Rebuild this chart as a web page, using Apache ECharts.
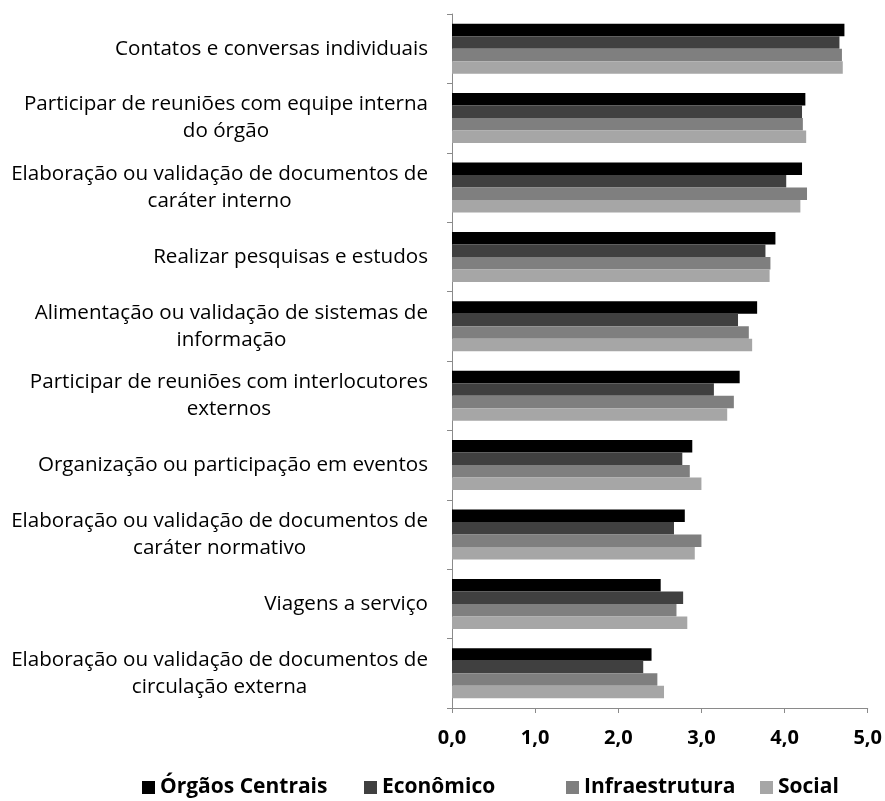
<!DOCTYPE html>
<html>
<head>
<meta charset="utf-8">
<script src="https://cdn.jsdelivr.net/npm/echarts@6/dist/echarts.min.js"></script>
<style>
  html, body { margin: 0; padding: 0; background: #fff; }
  #chart { width: 885px; height: 801px; }
</style>
</head>
<body>
<div id="chart"></div>
<script>
// Activities, top to bottom
const categories = [
  'Contatos e conversas individuais',
  'Participar de reuniões com equipe interna\ndo órgão',
  'Elaboração ou validação de documentos de\ncaráter interno',
  'Realizar pesquisas e estudos',
  'Alimentação ou validação de sistemas de\ninformação',
  'Participar de reuniões com interlocutores\nexternos',
  'Organização ou participação em eventos',
  'Elaboração ou validação de documentos de\ncaráter normativo',
  'Viagens a serviço',
  'Elaboração ou validação de documentos de\ncirculação externa'
];

const seriesNames = ['Órgãos Centrais', 'Econômico', 'Infraestrutura', 'Social'];

const orgaosCentrais = [4.72, 4.25, 4.21, 3.89, 3.67, 3.46, 2.89, 2.80, 2.51, 2.40];
const economico      = [4.66, 4.21, 4.02, 3.77, 3.44, 3.15, 2.77, 2.67, 2.78, 2.30];
const infraestrutura = [4.69, 4.22, 4.27, 3.83, 3.57, 3.39, 2.86, 3.00, 2.70, 2.47];
const social         = [4.70, 4.26, 4.19, 3.82, 3.61, 3.31, 3.00, 2.92, 2.83, 2.55];

const xTicks = [0, 1, 2, 3, 4, 5];

const colors = ['#000000', '#404040', '#7f7f7f', '#a6a6a6'];
const values = [orgaosCentrais, economico, infraestrutura, social];

const FONT = '"Open Sans", Lato, sans-serif';
const axisGray = '#8a8a8a';

// one legend block per series so each entry sits in its own slot
const legendLeft = [137, 359, 561, 755];
const legends = seriesNames.map((name, i) => ({
  left: legendLeft[i],
  top: 772,
  itemWidth: 13,
  itemHeight: 13,
  icon: 'rect',
  textStyle: { fontFamily: FONT, fontSize: 21, fontWeight: 'bold', color: '#000' },
  data: [name]
}));

const chart = echarts.init(document.getElementById('chart'), null, { renderer: 'canvas' });

chart.setOption({
  animation: false,
  backgroundColor: '#ffffff',
  color: colors,
  grid: { left: 452, right: 15, top: 14, bottom: 93, containLabel: false },
  legend: legends,
  xAxis: {
    type: 'value',
    min: xTicks[0],
    max: xTicks[xTicks.length - 1],
    interval: 1,
    splitLine: { show: false },
    axisLine: { show: true, lineStyle: { color: axisGray, width: 1 } },
    axisTick: { show: true, length: 5, lineStyle: { color: axisGray } },
    axisLabel: {
      margin: 20,
      fontFamily: FONT,
      fontSize: 20,
      fontWeight: 'bold',
      color: '#000',
      formatter: v => v.toFixed(1).replace('.', ',')
    }
  },
  yAxis: {
    type: 'category',
    inverse: true,
    data: categories,
    axisLine: { show: true, lineStyle: { color: axisGray, width: 1 } },
    axisTick: { show: true, length: 5, lineStyle: { color: axisGray } },
    axisLabel: {
      margin: 24,
      formatter: v => '{c|' + v + '}',
      rich: {
        c: { align: 'center', fontFamily: FONT, fontSize: 20.6, lineHeight: 27, color: '#000' }
      }
    }
  },
  series: seriesNames.map((name, i) => ({
    name: name,
    type: 'bar',
    data: values[i],
    barGap: '0%',
    barCategoryGap: '28%',
    itemStyle: { color: colors[i] }
  }))
});
</script>
</body>
</html>
